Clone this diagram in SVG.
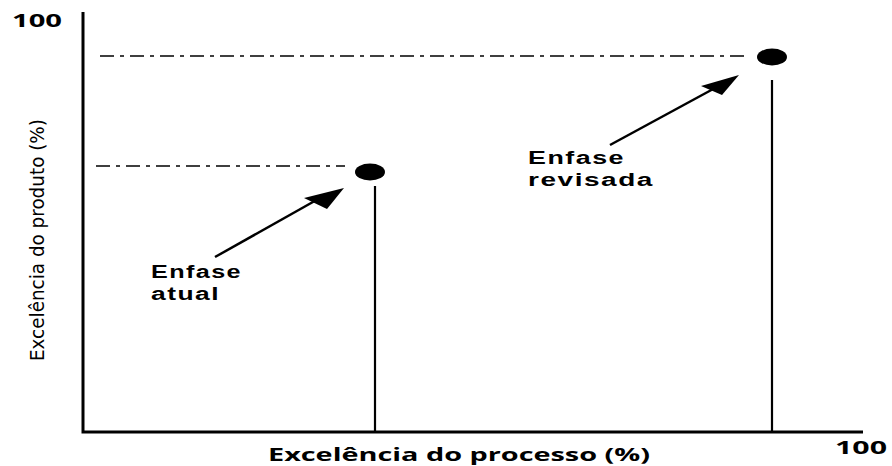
<svg xmlns="http://www.w3.org/2000/svg" width="892" height="466" viewBox="0 0 892 466">
<style>
.ax{stroke:#000;stroke-width:3;fill:none}
.v{stroke:#000;stroke-width:2.2;fill:none}
.d{stroke:#000;stroke-width:1.6;fill:none;stroke-dasharray:14 6 4 6}
.ar{stroke:#000;stroke-width:2.5;fill:none}
.t{font-family:"Open Sans","DejaVu Sans",sans-serif;font-weight:bold;font-size:18px;fill:#000}
.lb{font-family:"Liberation Sans",Arial,sans-serif;font-weight:bold;font-size:18px;fill:#000;letter-spacing:1px}
.yl{font-family:"DejaVu Sans Condensed","Liberation Sans Narrow","Liberation Sans",sans-serif;font-size:20px;fill:#000}
</style>
<rect width="892" height="466" fill="#fff"/>
<g id="axes">
<path class="ax" d="M83 12 V432 H863"/>
<text class="t" x="12" y="27" textLength="50" lengthAdjust="spacingAndGlyphs">100</text>
<text class="t" x="835" y="454" textLength="52" lengthAdjust="spacingAndGlyphs">100</text>
<text class="t" x="268" y="461" textLength="382" lengthAdjust="spacingAndGlyphs">Excelência do processo (%)</text>
<text class="yl" transform="translate(44,361) rotate(-90)" textLength="242" lengthAdjust="spacingAndGlyphs">Excelência do produto (%)</text>
</g>
<g id="connectors">
<line class="d" x1="96" y1="166" x2="345" y2="166"/>
<line class="v" x1="375" y1="186" x2="375" y2="432"/>
<line class="d" x1="100" y1="56" x2="745" y2="56"/>
<line class="v" x1="772" y1="80" x2="772" y2="432"/>
<line class="ar" x1="215" y1="257" x2="320" y2="198"/>
<polygon points="304,198 344,188 327,209" fill="#000"/>
<line class="ar" x1="610" y1="145" x2="715" y2="88"/>
<polygon points="701,86 739,75 722,95" fill="#000"/>
</g>
<g id="atual">
<ellipse cx="370" cy="172" rx="15" ry="8.5" fill="#000"/>
<text class="lb" x="151" y="278" textLength="91" lengthAdjust="spacingAndGlyphs">Enfase</text>
<text class="lb" x="151" y="300" textLength="69" lengthAdjust="spacingAndGlyphs">atual</text>
</g>
<g id="revisada">
<ellipse cx="772" cy="57" rx="15" ry="8.5" fill="#000"/>
<text class="lb" x="528" y="164" textLength="97" lengthAdjust="spacingAndGlyphs">Enfase</text>
<text class="lb" x="528" y="186" textLength="126" lengthAdjust="spacingAndGlyphs">revisada</text>
</g>
</svg>
